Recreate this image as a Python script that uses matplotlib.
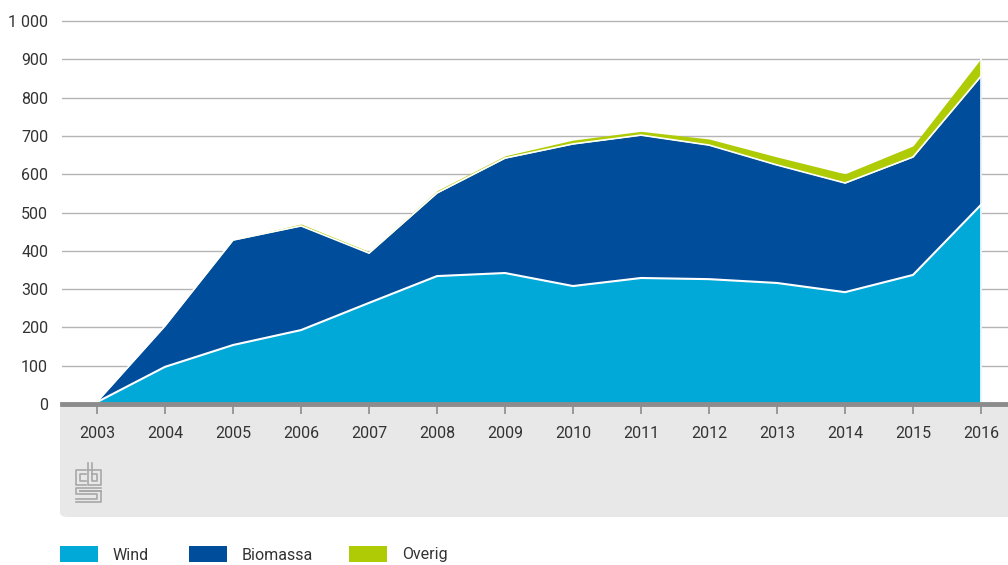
import matplotlib
matplotlib.use("Agg")
import matplotlib.pyplot as plt
from matplotlib.patches import FancyBboxPatch, Rectangle
from matplotlib.lines import Line2D
import numpy as np

years = [2003, 2004, 2005, 2006, 2007, 2008, 2009, 2010, 2011, 2012, 2013, 2014, 2015, 2016]
wind = [5, 97, 154, 193, 264, 334, 342, 308, 329, 326, 316, 292, 337, 520]
biomassa = [1, 107, 274, 272, 130, 217, 300, 371, 373, 350, 308, 285, 308, 336]
overig = [0, 0, 1, 5, 4, 6, 6, 10, 10, 16, 21, 24, 29, 46]
series_names = ["Wind", "Biomassa", "Overig"]
colors = ["#00a9d8", "#004d9c", "#afcb05"]
yticks = [0, 100, 200, 300, 400, 500, 600, 700, 800, 900, 1000]

W, H = 1008, 565
fig = plt.figure(figsize=(W / 100, H / 100), dpi=100)
plt.rcParams['font.family'] = ['Roboto', 'DejaVu Sans']
txtc = "#333333"

# gray band below axis
band = FancyBboxPatch((60 / W, 1 - 517 / H), (W - 60) / W + 0.02, (517 - 405) / H,
                      boxstyle="round,pad=0,rounding_size=0.008",
                      transform=fig.transFigure, facecolor="#e8e8e8", edgecolor="none", zorder=-5)
fig.patches.append(band)

ax_left = 62 / W
ax_right = 1.0
px_per_unit = 383 / 1000
ymax = 1010
ax_bottom = 1 - 404 / H
ax_height = ymax * px_per_unit / H
ax = fig.add_axes([ax_left, ax_bottom, ax_right - ax_left, ax_height])
ax.set_facecolor("none")
ax.set_zorder(2)

x0 = 2003 - 35 / 68
x1 = 2016 + 27 / 68
ax.set_xlim(x0, x1)
ax.set_ylim(0, ymax)

wind_a = np.array(wind, float)
bio_top = wind_a + np.array(biomassa, float)
tot = bio_top + np.array(overig, float)

for yv in yticks[1:]:
    ax.axhline(yv, color="#b4b4b4", lw=1, zorder=1)

ax.fill_between(years, 0, wind_a, color=colors[0], lw=0, zorder=2)
ax.fill_between(years, wind_a, bio_top, color=colors[1], lw=0, zorder=2)
ax.fill_between(years, bio_top, tot, color=colors[2], lw=0, zorder=2)
ax.plot(years, wind_a, color="white", lw=1.5, zorder=3)
ax.plot(years, bio_top, color="white", lw=1.2, zorder=3)
ax.plot([2016, 2016], [0, tot[-1]], color="white", lw=1.2, zorder=3)

for s in ax.spines.values():
    s.set_visible(False)
ax.axhline(0, color="#8c8c8c", lw=3.5, zorder=4, clip_on=False)

ax.set_yticks(yticks)
ax.set_yticklabels([f"{v:,}".replace(",", " ") for v in yticks], fontsize=11.5, color=txtc)
ax.tick_params(axis="y", length=0, pad=10)
ax.set_xticks(years)
ax.set_xticklabels([str(y) for y in years], fontsize=11.5, color=txtc)
ax.tick_params(axis="x", length=7, width=1.2, color="#8c8c8c", pad=9, direction="out")

# cbs logo (simplified)
def fl(xs, ys):
    fig.lines.append(Line2D([x / W for x in xs], [1 - y / H for y in ys],
                            transform=fig.transFigure, color="#a8a8a8", lw=1.2))
# c
fl([86, 76, 76, 86], [470, 470, 485, 485])
fl([86, 80, 80, 86], [474, 474, 481, 481])
# b
fl([88, 88, 101, 101, 88], [463, 485, 485, 470, 470])
fl([92, 92, 97, 97, 92], [463, 481, 481, 474, 474])
# s
fl([101, 76, 76, 97, 97, 76], [488, 488, 494, 494, 499, 499])
fl([101, 80, 80, 101, 101, 76], [491, 491, 491, 491, 502, 502])

# legend
lx = [60, 189, 349]
for i, name in enumerate(series_names):
    fig.patches.append(Rectangle((lx[i] / W, 1 - 562 / H), 38 / W, 16 / H,
                                 transform=fig.transFigure, facecolor=colors[i], edgecolor="none"))
    fig.text((lx[i] + 53) / W, 1 - 555 / H, name, fontsize=11.5, color=txtc, va="center", ha="left")

fig.savefig("out.png", dpi=100)
